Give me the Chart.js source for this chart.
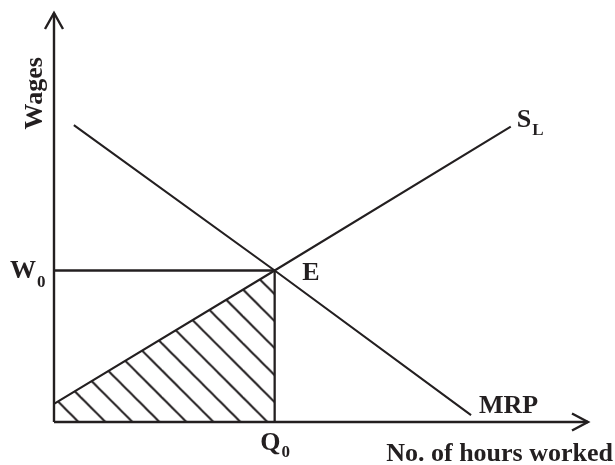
<!DOCTYPE html>
<html>
<head>
<meta charset="utf-8">
<script src="https://cdn.jsdelivr.net/npm/chart.js@4"></script>
<style>
  html, body { margin: 0; padding: 0; background: #fff; }
  #wrap { width: 615px; height: 465px; }
</style>
</head>
<body>
<div id="wrap"><canvas id="chartLabour"></canvas></div>
<script>
const ink = "#231f20";

// equilibrium hours and wage
const q0 = 10;
const w0 = 10;

// supply of labour (S_L) and marginal revenue product (MRP)
const supplyX = [0, 10, 20.7];
const supplyY = [1.2, 10, 19.5];
const mrpX = [0.9, 10, 18.9];
const mrpY = [19.6, 10, 0.45];

// axis extent
const xMax = 24.2;
const yMax = 27;

const toPoints = (xs, ys) => xs.map((v, i) => ({ x: v, y: ys[i] }));

// diagonal hatching for the surplus area
function hatch() {
  const step = 27;
  const size = step * 3;
  const c = document.createElement("canvas");
  c.width = size;
  c.height = size;
  const g = c.getContext("2d");
  g.strokeStyle = ink;
  g.lineWidth = 2;
  for (let k = -4; k <= 4; k++) {
    g.beginPath();
    g.moveTo(-20, -20 + k * step);
    g.lineTo(size + 20, size + 20 + k * step);
    g.stroke();
  }
  const p = g.createPattern(c, "repeat");
  p.setTransform(new DOMMatrix().translate(0, 19.5));
  return p;
}

const line = (data, width) => ({
  data: data,
  showLine: true,
  borderColor: ink,
  borderWidth: width,
  pointRadius: 0,
  fill: false,
  clip: false,
});

const labels = {
  id: "labels",
  afterDatasetsDraw(chart) {
    const { ctx, scales: { x, y } } = chart;
    const big = "bold 26px 'Liberation Serif', 'Times New Roman', serif";
    const small = "bold 17px 'Liberation Serif', 'Times New Roman', serif";
    const x0 = x.getPixelForValue(0);
    const y0 = y.getPixelForValue(0);
    const xe = x.getPixelForValue(q0);
    const ye = y.getPixelForValue(w0);
    const xEnd = x.getPixelForValue(xMax);
    const yEnd = y.getPixelForValue(yMax);

    ctx.save();
    ctx.fillStyle = ink;
    ctx.strokeStyle = ink;

    // arrow heads
    ctx.lineWidth = 2.4;
    ctx.beginPath();
    ctx.moveTo(x0 - 9, yEnd + 16);
    ctx.lineTo(x0, yEnd);
    ctx.lineTo(x0 + 9, yEnd + 16);
    ctx.moveTo(xEnd - 16, y0 - 8.5);
    ctx.lineTo(xEnd, y0);
    ctx.lineTo(xEnd - 16, y0 + 8.5);
    ctx.stroke();

    const sub = (main, s, px, py, drop) => {
      ctx.font = big;
      ctx.textAlign = "left";
      ctx.fillText(main, px, py);
      const w = ctx.measureText(main).width;
      ctx.font = small;
      ctx.fillText(s, px + w + 1, py + drop);
    };

    ctx.textBaseline = "alphabetic";
    sub("W", "0", x0 - 44, ye + 7.5, 8.5);
    sub("Q", "0", xe - 14.5, y0 + 28, 7);
    const sEnd = supplyX.length - 1;
    sub("S", "L", x.getPixelForValue(supplyX[sEnd]) + 6, y.getPixelForValue(supplyY[sEnd]), 8);

    ctx.font = big;
    ctx.textAlign = "left";
    ctx.fillText("E", xe + 27.5, ye + 9.5);
    const mEnd = mrpX.length - 1;
    ctx.fillText("MRP", x.getPixelForValue(mrpX[mEnd]) + 8, y.getPixelForValue(mrpY[mEnd]) - 2);

    ctx.textAlign = "right";
    ctx.fillText("No. of hours worked", xEnd + 25, y0 + 39);

    ctx.translate(x0 - 12, y.getPixelForValue(21.7));
    ctx.rotate(-Math.PI / 2);
    ctx.textAlign = "center";
    ctx.fillText("Wages", 0, 0);
    ctx.restore();
  },
};

const ctx = document.getElementById("chartLabour");

new Chart(ctx, {
  type: "scatter",
  data: {
    datasets: [
      {
        data: toPoints([0, q0], [supplyY[0], w0]),
        showLine: true,
        borderWidth: 0,
        pointRadius: 0,
        backgroundColor: hatch(),
        fill: "origin",
        clip: false,
      },
      line(toPoints([0, xMax], [0, 0]), 2.4),
      line(toPoints([0, 0], [0, yMax]), 2.4),
      line(toPoints([0, q0], [w0, w0]), 2.3),
      line(toPoints([q0, q0], [0, w0]), 2.3),
      line(toPoints(supplyX, supplyY), 2.1),
      line(toPoints(mrpX, mrpY), 2.1),
    ],
  },
  options: {
    responsive: true,
    maintainAspectRatio: false,
    animation: false,
    layout: {
      padding: { left: 54, right: 27, top: 13, bottom: 43 },
    },
    scales: {
      x: { type: "linear", min: 0, max: xMax, display: false },
      y: { type: "linear", min: 0, max: yMax, display: false },
    },
    plugins: {
      legend: { display: false },
      tooltip: { enabled: false },
    },
  },
  plugins: [labels],
});
</script>
</body>
</html>
